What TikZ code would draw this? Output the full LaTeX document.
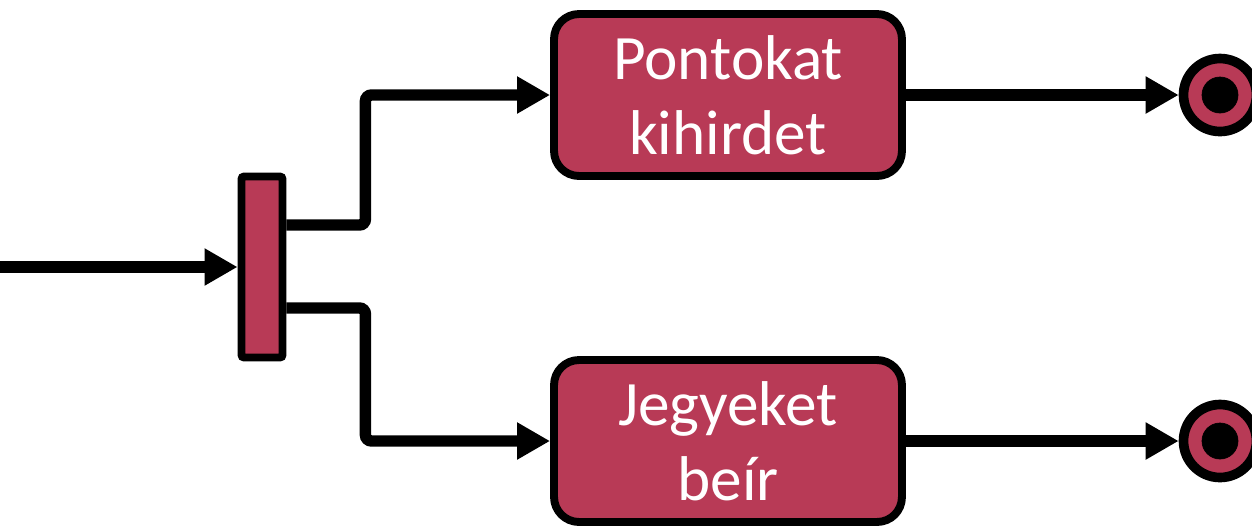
\documentclass[tikz,border=0pt]{standalone}
\usepackage{fontspec}
\setmainfont{Carlito}
\usetikzlibrary{arrows.meta,shadows}
\definecolor{actred}{HTML}{B83A56}

\begin{document}
\begin{tikzpicture}[%
      x=0.02cm, y=-0.02cm,
      shade/.style={drop shadow={opacity=0.35, shadow xshift=0.06cm, shadow yshift=-0.06cm}},
      action/.style={draw=black, fill=actred, line width=4.5pt, rounded corners=0.5cm,
        minimum width=6.96cm, minimum height=3.24cm, align=center, text=white,
        font=\fontsize{36}{42.5}\selectfont, shade},
      forkbar/.style={draw=black, fill=actred, line width=4.5pt, rounded corners=1.5pt,
        minimum width=0.82cm, minimum height=3.62cm, shade},
      final/.style={circle, draw=black, fill=actred, line width=5.5pt,
        minimum size=1.46cm, shade},
      conn/.style={color=black, line width=6.5pt, rounded corners=0.12cm,
        -{Triangle[length=0.66cm, width=0.7cm]}},
      ]
      \useasboundingbox (0,0) rectangle (1252,529);

      \node [forkbar] (fork) at (262,267) {};
      \node [action] (pk) at (728,95) {Pontokat\\kihirdet};
      \node [action] (jb) at (728,441) {Jegyeket\\beír};

      \node [final] (end1) at (1220,95) {};
      \filldraw [color=black] (end1) circle (0.36cm);
      \node [final] (end2) at (1220,441) {};
      \filldraw [color=black] (end2) circle (0.36cm);

      \coordinate (start) at (0,267);
      \draw [conn] (start) -- (start -| fork.west);
      \draw [conn] ([yshift=0.84cm]fork.east) -- ++(79,0) |- (pk.west);
      \draw [conn] ([yshift=-0.82cm]fork.east) -- ++(79,0) |- (jb.west);
      \draw [conn] (pk) -- (end1);
      \draw [conn] (jb) -- (end2);
\end{tikzpicture}
\end{document}
